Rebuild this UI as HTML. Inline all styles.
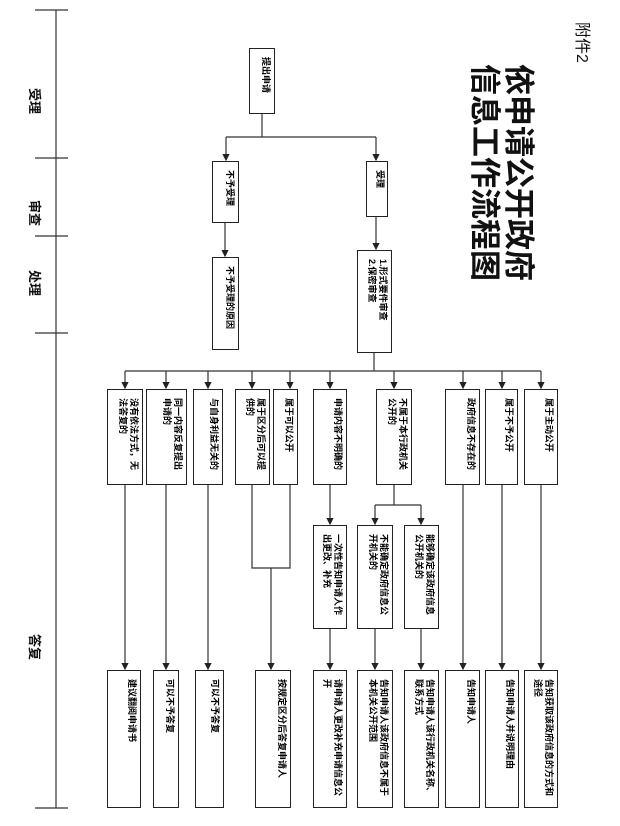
<!DOCTYPE html>
<html><head><meta charset="utf-8"><style>
body{margin:0;background:#fff;}
#c{position:relative;width:620px;height:826px;overflow:hidden;background:#fff;font-family:"Liberation Sans","Noto Sans CJK SC",sans-serif;color:#111;}
.b{position:absolute;border:1.3px solid #222;box-sizing:border-box;writing-mode:vertical-rl;text-orientation:sideways;font-size:9px;line-height:11px;padding:8px 3px;text-align:left;font-weight:bold;color:#000;}
.t{position:absolute;writing-mode:vertical-rl;text-orientation:sideways;white-space:nowrap;}
</style></head><body><div id="c">
<svg width="620" height="826" style="position:absolute;left:0;top:0" stroke="#333" stroke-width="1.2" fill="none">
<defs><marker id="a" markerWidth="6" markerHeight="6" refX="5" refY="3" orient="auto"><path d="M0,0 L6,3 L0,6z" fill="#222" stroke="none"/></marker></defs>
<line x1="56" y1="10" x2="56" y2="808"/>
<line x1="35" y1="10" x2="68" y2="10"/><line x1="35" y1="158" x2="68" y2="158"/>
<line x1="35" y1="236" x2="68" y2="236"/><line x1="35" y1="333" x2="68" y2="333"/>
<line x1="35" y1="808" x2="68" y2="808"/>
<line x1="262" y1="114" x2="262" y2="137"/>
<line x1="226" y1="137" x2="376" y2="137"/>
<line x1="226" y1="137" x2="226" y2="160" marker-end="url(#a)"/>
<line x1="376" y1="137" x2="376" y2="160" marker-end="url(#a)"/>
<line x1="225" y1="223" x2="225" y2="256" marker-end="url(#a)"/>
<line x1="376" y1="217" x2="376" y2="249" marker-end="url(#a)"/>
<line x1="374" y1="353" x2="374" y2="371"/>
<line x1="125" y1="371" x2="541" y2="371"/>
<g marker-end="url(#a)">
<line x1="125" y1="371" x2="125" y2="388"/><line x1="166" y1="371" x2="166" y2="388"/>
<line x1="208" y1="371" x2="208" y2="388"/><line x1="252" y1="371" x2="252" y2="388"/>
<line x1="290" y1="371" x2="290" y2="388"/><line x1="330" y1="371" x2="330" y2="388"/>
<line x1="394" y1="371" x2="394" y2="388"/><line x1="463" y1="371" x2="463" y2="388"/>
<line x1="502" y1="371" x2="502" y2="388"/><line x1="541" y1="371" x2="541" y2="388"/>
<line x1="125" y1="485" x2="125" y2="669"/><line x1="166" y1="485" x2="166" y2="669"/>
<line x1="208" y1="485" x2="208" y2="669"/><line x1="463" y1="485" x2="463" y2="669"/>
<line x1="502" y1="485" x2="502" y2="669"/><line x1="541" y1="485" x2="541" y2="669"/>
<line x1="330" y1="485" x2="330" y2="524"/>
<line x1="375" y1="505" x2="375" y2="524"/><line x1="421" y1="505" x2="421" y2="524"/>
<line x1="330" y1="629" x2="330" y2="669"/><line x1="375" y1="629" x2="375" y2="669"/>
<line x1="421" y1="629" x2="421" y2="669"/>
<line x1="271" y1="568" x2="271" y2="669"/>
</g>
<line x1="394" y1="485" x2="394" y2="505"/><line x1="375" y1="505" x2="421" y2="505"/>
<polyline points="252,485 252,568 290,568 290,485"/>
</svg>
<div class="t" style="left:26px;top:88px;font-size:13px;font-weight:bold;">受理</div>
<div class="t" style="left:26px;top:200px;font-size:13px;font-weight:bold;">审查</div>
<div class="t" style="left:26px;top:270px;font-size:13px;font-weight:bold;">处理</div>
<div class="t" style="left:26px;top:634px;font-size:13px;font-weight:bold;">答复</div>
<div class="t" style="left:572px;top:22px;font-size:16px;">附件2</div>
<div class="t" style="left:467px;top:64px;font-size:31px;line-height:34px;font-weight:bold;">依申请公开政府<br>信息工作流程图</div>
<div class="b" style="left:249px;top:48px;width:26px;height:66px;">提出申请</div>
<div class="b" style="left:212px;top:161px;width:27px;height:62px;">不予受理</div>
<div class="b" style="left:366px;top:161px;width:22px;height:56px;padding:8px 2px;">受理</div>
<div class="b" style="left:212px;top:257px;width:27px;height:93px;">不予受理的原因</div>
<div class="b" style="left:357px;top:250px;width:35px;height:103px;">1.形式要件审查<br>2.保密审查</div>
<div class="b" style="left:107px;top:389px;width:36px;height:96px;">没有依法方式，无法答复的</div>
<div class="b" style="left:146px;top:389px;width:41px;height:96px;">同一内容反复提出申请的</div>
<div class="b" style="left:193px;top:389px;width:30px;height:96px;">与自身利益无关的</div>
<div class="b" style="left:235px;top:389px;width:35px;height:96px;">属于区分后可以提供的</div>
<div class="b" style="left:273px;top:389px;width:25px;height:96px;">属于可以公开</div>
<div class="b" style="left:313px;top:389px;width:34px;height:96px;">申请内容不明确的</div>
<div class="b" style="left:376px;top:389px;width:36px;height:96px;">不属于本行政机关公开的</div>
<div class="b" style="left:445px;top:389px;width:35px;height:96px;">政府信息不存在的</div>
<div class="b" style="left:485px;top:389px;width:33px;height:96px;">属于不予公开</div>
<div class="b" style="left:524px;top:389px;width:34px;height:96px;">属于主动公开</div>
<div class="b" style="left:313px;top:525px;width:34px;height:104px;">一次性告知申请人作出更改、补充</div>
<div class="b" style="left:357px;top:525px;width:36px;height:104px;">不能确定政府信息公开机关的</div>
<div class="b" style="left:404px;top:525px;width:35px;height:104px;">能够确定该政府信息公开机关的</div>
<div class="b" style="left:107px;top:670px;width:34px;height:138px;">建议翻阅申请书</div>
<div class="b" style="left:153px;top:670px;width:26px;height:138px;">可以不予答复</div>
<div class="b" style="left:195px;top:670px;width:29px;height:138px;">可以不予答复</div>
<div class="b" style="left:255px;top:670px;width:36px;height:138px;">按规定区分后答复申请人</div>
<div class="b" style="left:313px;top:670px;width:34px;height:138px;">请申请人更改补充申请信息公开</div>
<div class="b" style="left:357px;top:670px;width:36px;height:138px;">告知申请人该政府信息不属于本机关公开范围</div>
<div class="b" style="left:404px;top:670px;width:35px;height:138px;">告知申请人该行政机关名称、联系方式</div>
<div class="b" style="left:445px;top:670px;width:35px;height:138px;">告知申请人</div>
<div class="b" style="left:485px;top:670px;width:34px;height:138px;">告知申请人并说明理由</div>
<div class="b" style="left:524px;top:670px;width:34px;height:138px;">告知获取该政府信息的方式和途径</div>
</div></body></html>
